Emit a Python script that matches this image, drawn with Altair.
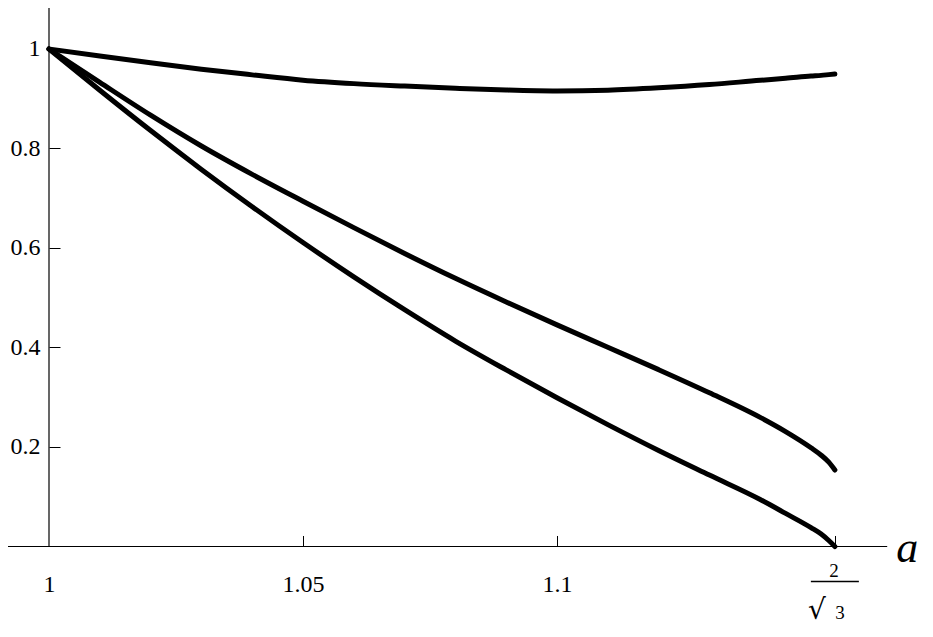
import math
import altair as alt
import pandas as pd

SERIF = "Liberation Serif"
FRAC_X = 2 / math.sqrt(3)

# ---- data ----
a_vals = [1.00, 1.01, 1.02, 1.03, 1.04, 1.05, 1.06, 1.07, 1.08, 1.09, 1.10,
          1.11, 1.12, 1.13, 1.14, 1.145, 1.15, 1.152, 1.1535, FRAC_X]
upper = [1.0, 0.986, 0.9725, 0.9594, 0.948, 0.9373, 0.9304, 0.9255, 0.9212,
         0.9175, 0.9156, 0.9172, 0.922, 0.9285, 0.937, 0.941, 0.9455, 0.947, 0.9485, 0.9497]
middle = [1.0, 0.933, 0.867, 0.805, 0.748, 0.694, 0.641, 0.589, 0.539, 0.4915,
          0.4455, 0.4005, 0.3555, 0.309, 0.2595, 0.231, 0.1985, 0.1835, 0.1695, 0.1538]
lower = [1.0, 0.917, 0.836, 0.758, 0.683, 0.611, 0.542, 0.476, 0.413, 0.355,
         0.299, 0.245, 0.193, 0.1435, 0.0945, 0.0665, 0.038, 0.025, 0.012, 0.0]

x_tick_values = [1.05, 1.1, FRAC_X]
x_label_values = [1, 1.05, 1.1]
y_tick_values = [0.2, 0.4, 0.6, 0.8, 1.0]
x_axis_end = 1.165

# ---- layout ----
W, H = 917, 621
X_DOM = [0.991929, 1.172441]
Y_DOM = [-0.16583, 1.08241]
x_axis_pos = (Y_DOM[1] - 0) / (Y_DOM[1] - Y_DOM[0]) * H      # pixel row of y = 0
y_axis_pos = (1 - X_DOM[0]) / (X_DOM[1] - X_DOM[0]) * W      # pixel column of a = 1

xs = alt.Scale(domain=X_DOM, nice=False, zero=False)
ys = alt.Scale(domain=Y_DOM, nice=False, zero=False)

rows = []
for name, vals in (("upper", upper), ("middle", middle), ("lower", lower)):
    for a, v in zip(a_vals, vals):
        rows.append({"a": a, "v": v, "series": name})
df = pd.DataFrame(rows)

tick_x_axis = alt.Axis(orient="top", offset=-x_axis_pos, values=x_tick_values,
                       labels=False, domain=False, grid=False, ticks=True,
                       tickSize=11, tickColor="black", tickWidth=1, title=None)
tick_y_axis = alt.Axis(orient="right", offset=-(W - y_axis_pos), values=y_tick_values,
                       labels=False, domain=False, grid=False, ticks=True,
                       tickSize=11, tickColor="black", tickWidth=1, title=None)

lines = alt.Chart(df).mark_line(
    color="black", strokeWidth=5, strokeCap="round", strokeJoin="round",
    interpolate="monotone"
).encode(
    x=alt.X("a:Q", scale=xs, axis=tick_x_axis),
    y=alt.Y("v:Q", scale=ys, axis=tick_y_axis),
    detail="series:N",
    order="a:Q",
)

label_x_axis = alt.Axis(orient="bottom", offset=-(H - x_axis_pos), values=x_label_values,
                        labels=True, ticks=False, tickSize=0, domain=False, grid=False,
                        labelFont=SERIF, labelFontSize=24, labelColor="black",
                        labelBaseline="alphabetic", labelPadding=45,
                        labelExpr="format(datum.value, '~g')", title=None)
label_y_axis = alt.Axis(orient="left", offset=-y_axis_pos, values=y_tick_values,
                        labels=True, ticks=False, tickSize=0, domain=False, grid=False,
                        labelFont=SERIF, labelFontSize=24, labelColor="black",
                        labelBaseline="middle", labelAlign="right", labelPadding=9,
                        labelExpr="format(datum.value, '~g')", title=None)

axes_df = pd.DataFrame({
    "x": [X_DOM[0], 1.0],
    "x2": [x_axis_end, 1.0],
    "y": [0.0, 0.0],
    "y2": [0.0, Y_DOM[1]],
})
axis_lines = alt.Chart(axes_df).mark_rule(color="black", strokeWidth=1.2).encode(
    x=alt.X("x:Q", scale=xs, axis=label_x_axis),
    x2="x2:Q",
    y=alt.Y("y:Q", scale=ys, axis=label_y_axis),
    y2="y2:Q",
)


def text_layer(x, t, **mark):
    d = pd.DataFrame({"x": [x], "y": [0.0], "t": [t]})
    return alt.Chart(d).mark_text(color="black", **mark).encode(
        x=alt.X("x:Q", scale=xs, axis=None),
        y=alt.Y("y:Q", scale=ys, axis=None),
        text="t:N",
    )


numer = text_layer(FRAC_X, "2", font=SERIF, fontSize=19, align="center",
                   baseline="alphabetic", dx=-1, dy=31)
root = text_layer(FRAC_X, "√", font="DejaVu Serif", fontSize=28, align="left",
                  baseline="alphabetic", dx=-27, dy=73)
denom = text_layer(FRAC_X, "3", font=SERIF, fontSize=19, align="center",
                   baseline="alphabetic", dx=5, dy=73)
bar_df = pd.DataFrame({"x": [FRAC_X], "y": [0.0]})
frac_bar = alt.Chart(bar_df).mark_tick(
    orient="horizontal", size=48, thickness=1.3, color="black", opacity=1, yOffset=35
).encode(
    x=alt.X("x:Q", scale=xs, axis=None),
    y=alt.Y("y:Q", scale=ys, axis=None),
)
a_label = text_layer(x_axis_end, "a", font=SERIF, fontSize=44, fontStyle="italic",
                     align="left", baseline="alphabetic", dx=9, dy=15.5)

chart = alt.layer(
    axis_lines, lines, numer, root, denom, frac_bar, a_label
).resolve_axis(
    x="independent", y="independent"
).properties(
    width=W, height=H,
    autosize=alt.AutoSizeParams(type="none"),
    padding=0,
    background="white",
).configure_view(stroke=None)

chart.save("out.html", embed_options={"renderer": "svg", "actions": False})
